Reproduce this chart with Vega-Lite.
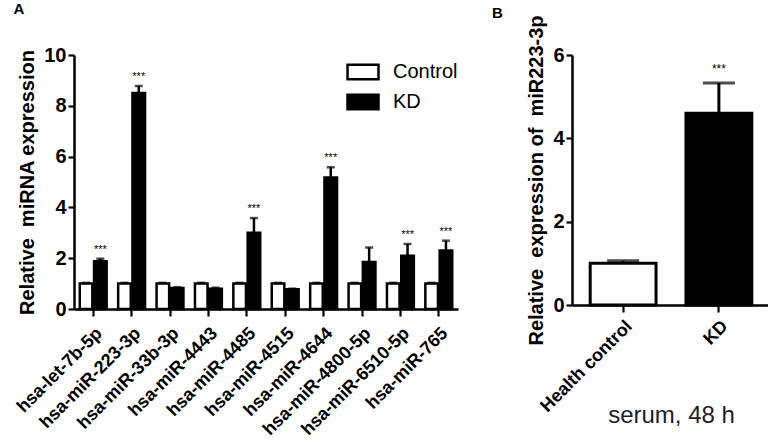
{
  "$schema": "https://vega.github.io/schema/vega-lite/v6.json",
  "padding": {"left": 13, "top": 2, "right": 0, "bottom": 0},
  "background": "white",
  "bounds": "flush",
  "spacing": 114,
  "config": {
    "font": "Liberation Sans",
    "view": {"stroke": null},
    "axis": {"domainColor": "black", "tickColor": "black", "labelColor": "black", "titleColor": "black", "grid": false, "domainWidth": 2.5, "tickWidth": 2.2, "labelFontWeight": "bold", "titleFontWeight": "bold"}
  },
  "datasets": {
    "a": [
      {"mirna": "hsa-let-7b-5p", "group": "Control", "value": 1.0, "hi": 1.03, "sig": ""},
      {"mirna": "hsa-let-7b-5p", "group": "KD", "value": 1.88, "hi": 1.98, "sig": "***"},
      {"mirna": "hsa-miR-223-3p", "group": "Control", "value": 1.0, "hi": 1.03, "sig": ""},
      {"mirna": "hsa-miR-223-3p", "group": "KD", "value": 8.5, "hi": 8.78, "sig": "***"},
      {"mirna": "hsa-miR-33b-3p", "group": "Control", "value": 1.0, "hi": 1.03, "sig": ""},
      {"mirna": "hsa-miR-33b-3p", "group": "KD", "value": 0.83, "hi": 0.86, "sig": ""},
      {"mirna": "hsa-miR-4443", "group": "Control", "value": 1.0, "hi": 1.03, "sig": ""},
      {"mirna": "hsa-miR-4443", "group": "KD", "value": 0.8, "hi": 0.84, "sig": ""},
      {"mirna": "hsa-miR-4485", "group": "Control", "value": 1.0, "hi": 1.03, "sig": ""},
      {"mirna": "hsa-miR-4485", "group": "KD", "value": 3.0, "hi": 3.58, "sig": "***"},
      {"mirna": "hsa-miR-4515", "group": "Control", "value": 1.0, "hi": 1.03, "sig": ""},
      {"mirna": "hsa-miR-4515", "group": "KD", "value": 0.78, "hi": 0.8, "sig": ""},
      {"mirna": "hsa-miR-4644", "group": "Control", "value": 1.0, "hi": 1.03, "sig": ""},
      {"mirna": "hsa-miR-4644", "group": "KD", "value": 5.18, "hi": 5.58, "sig": "***"},
      {"mirna": "hsa-miR-4800-5p", "group": "Control", "value": 1.0, "hi": 1.03, "sig": ""},
      {"mirna": "hsa-miR-4800-5p", "group": "KD", "value": 1.85, "hi": 2.42, "sig": ""},
      {"mirna": "hsa-miR-6510-5p", "group": "Control", "value": 1.0, "hi": 1.03, "sig": ""},
      {"mirna": "hsa-miR-6510-5p", "group": "KD", "value": 2.1, "hi": 2.56, "sig": "***"},
      {"mirna": "hsa-miR-765", "group": "Control", "value": 1.0, "hi": 1.03, "sig": ""},
      {"mirna": "hsa-miR-765", "group": "KD", "value": 2.3, "hi": 2.69, "sig": "***"}
    ],
    "b": [
      {"group": "Health control", "value": 1.0, "hi": 1.06, "sig": ""},
      {"group": "KD", "value": 4.6, "hi": 5.33, "sig": "***"}
    ]
  },
  "hconcat": [
    {
      "width": 384,
      "height": 254,
      "title": {"text": "A", "anchor": "start", "frame": "bounds", "fontSize": 15, "fontWeight": "bold", "offset": 24, "dy": -4, "color": "black"},
      "data": {"name": "a"},
      "encoding": {
        "x": {"field": "mirna", "type": "nominal", "sort": null, "scale": {"paddingInner": 0.3, "paddingOuter": 0.15},
              "axis": {"title": null, "labelAngle": -45, "labelFontSize": 18, "tickSize": 7, "labelPadding": 8}},
        "xOffset": {"field": "group", "type": "nominal", "sort": ["Control", "KD"], "scale": {"paddingInner": 0.12}}
      },
      "layer": [
        {
          "mark": {"type": "bar", "stroke": "black", "strokeWidth": 2.5},
          "encoding": {
            "y": {"field": "value", "type": "quantitative", "scale": {"domain": [0, 10]},
                  "axis": {"values": [0, 2, 4, 6, 8, 10], "title": "Relative\u00a0 miRNA expression", "titleFontSize": 20, "labelFontSize": 20, "tickSize": 6, "labelPadding": 2, "titlePadding": 6}},
            "fill": {"field": "group", "type": "nominal", "scale": {"domain": ["Control", "KD"], "range": ["white", "black"]},
                     "legend": {"title": null, "orient": "top-right", "offset": 0, "padding": 0,
                                "symbolType": "M-1,-0.47H1V0.47H-1Z", "symbolSize": 960, "symbolStrokeColor": "black", "symbolStrokeWidth": 2.5,
                                "labelFontSize": 20, "labelColor": "black", "labelOffset": 13, "rowPadding": 0}}
          }
        },
        {
          "mark": {"type": "rule", "strokeWidth": 2.5, "color": "black"},
          "encoding": {"y": {"field": "value", "type": "quantitative"}, "y2": {"field": "hi"}}
        },
        {
          "mark": {"type": "tick", "thickness": 2.5, "size": 8, "color": "black", "orient": "horizontal"},
          "encoding": {"y": {"field": "hi", "type": "quantitative"}}
        },
        {
          "mark": {"type": "text", "dy": -9, "fontSize": 11, "color": "black"},
          "encoding": {"y": {"field": "hi", "type": "quantitative"}, "text": {"field": "sig"}}
        }
      ]
    },
    {
      "width": 198,
      "height": 250,
      "title": {"text": "B", "anchor": "start", "frame": "bounds", "fontSize": 15, "fontWeight": "bold", "offset": -6, "dx": -35, "color": "black"},
      "data": {"name": "b"},
      "encoding": {
        "x": {"field": "group", "type": "nominal", "sort": null, "scale": {"paddingInner": 0.3125, "paddingOuter": 0.19},
              "axis": {"title": "serum, 48 h", "titleFontSize": 24, "titleFontWeight": "normal", "titleColor": "#1c1c33", "labelAngle": -45, "labelFontSize": 18, "tickSize": 7, "labelPadding": 5, "titlePadding": -12}}
      },
      "layer": [
        {
          "mark": {"type": "bar", "stroke": "black", "strokeWidth": 3},
          "encoding": {
            "y": {"field": "value", "type": "quantitative", "scale": {"domain": [0, 6]},
                  "axis": {"values": [0, 2, 4, 6], "title": "Relative\u00a0 expression of\u00a0 miR223-3p", "titleFontSize": 20, "labelFontSize": 20, "tickSize": 6, "labelPadding": 2, "titlePadding": 6}},
            "fill": {"field": "group", "type": "nominal", "scale": {"domain": ["Health control", "KD"], "range": ["white", "black"]}, "legend": null}
          }
        },
        {
          "mark": {"type": "rule", "strokeWidth": 3, "color": "black"},
          "encoding": {"y": {"field": "value", "type": "quantitative"}, "y2": {"field": "hi"}}
        },
        {
          "mark": {"type": "tick", "thickness": 3, "size": 32, "color": "black", "orient": "horizontal"},
          "encoding": {"y": {"field": "hi", "type": "quantitative"}}
        },
        {
          "mark": {"type": "text", "dy": -14, "fontSize": 12, "color": "black"},
          "encoding": {"y": {"field": "hi", "type": "quantitative"}, "text": {"field": "sig"}}
        }
      ]
    }
  ],
  "resolve": {"scale": {"fill": "independent"}}
}
